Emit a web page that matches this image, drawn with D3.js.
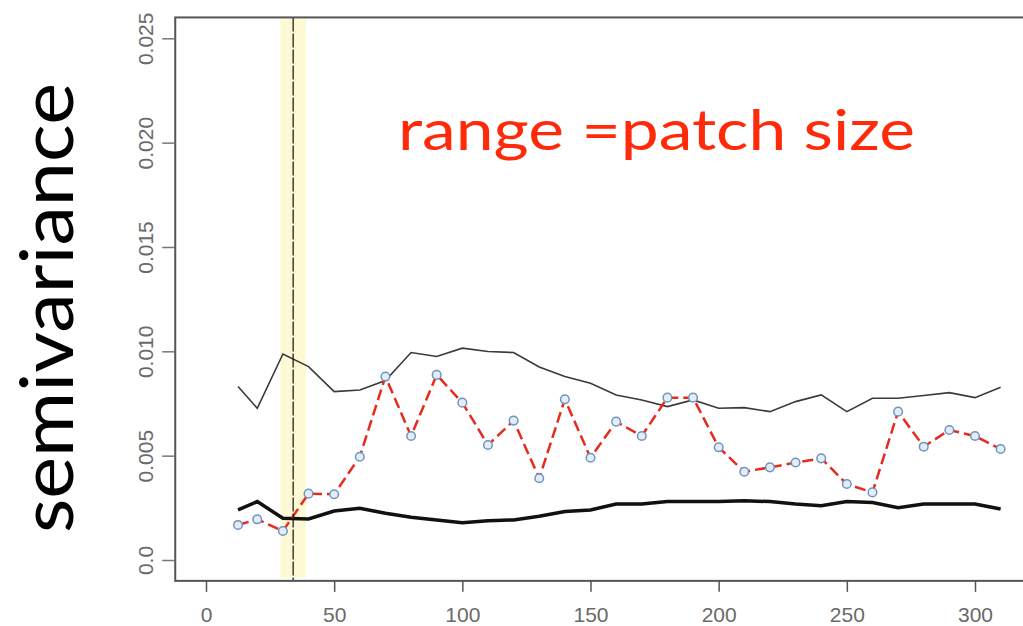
<!DOCTYPE html>
<html>
<head>
<meta charset="utf-8">
<script src="https://cdn.jsdelivr.net/npm/d3@7"></script>
<style>
  html, body { margin: 0; padding: 0; background: #fff; }
  svg { display: block; }
</style>
</head>
<body>
<svg width="1023" height="626"></svg>
<script>
// lag distances (x) and the three curves
const lags = [12.5, 20, 30, 40, 50, 60, 70, 80, 90, 100, 110, 120, 130, 140, 150, 160,
  170, 180, 190, 200, 210, 220, 230, 240, 250, 260, 270, 280, 290, 300, 310];
const semivar = [0.00168, 0.00195, 0.00139, 0.00318, 0.00315, 0.00495, 0.00879, 0.00594,
  0.00887, 0.00754, 0.00551, 0.00668, 0.00392, 0.0077, 0.0049, 0.00663, 0.00594, 0.00778,
  0.00778, 0.0054, 0.00423, 0.00444, 0.00467, 0.00487, 0.00364, 0.00324, 0.00711, 0.00543,
  0.00623, 0.00594, 0.00532];
const upper = [0.00831, 0.00727, 0.00987, 0.00927, 0.00807, 0.00815, 0.0086, 0.00994,
  0.00975, 0.01015, 0.00999, 0.00994, 0.00925, 0.00879, 0.00847, 0.00791, 0.00767, 0.00735,
  0.00767, 0.00727, 0.0073, 0.00711, 0.00759, 0.00791, 0.00711, 0.00775, 0.00775, 0.00788,
  0.00802, 0.00778, 0.00828];
const lower = [0.0024, 0.0028, 0.002, 0.00197, 0.00235, 0.00248, 0.00224, 0.00205,
  0.00192, 0.00179, 0.00188, 0.00192, 0.0021, 0.00232, 0.0024, 0.00268, 0.00268, 0.0028,
  0.0028, 0.0028, 0.00284, 0.0028, 0.00268, 0.0026, 0.0028, 0.00275, 0.00251, 0.00268,
  0.00268, 0.00268, 0.00244];

const xTicks = [0, 50, 100, 150, 200, 250, 300];
const yTicks = [0, 0.005, 0.01, 0.015, 0.02, 0.025];
const rangeBand = [29, 39];
const rangeLine = 34;

const svg = d3.select("svg");

const x = d3.scaleLinear().domain([0, 300]).range([206, 975]);
const y = d3.scaleLinear().domain([0, 0.025]).range([560, 38.3]);

// plot region (R style 4% padding)
const xlim = [-12, 322];
const ylim = [-0.001, 0.026];

// yellow band marking the range
svg.append("rect")
  .attr("x", x(rangeBand[0]))
  .attr("y", y(ylim[1]) + 1)
  .attr("width", x(rangeBand[1]) - x(rangeBand[0]))
  .attr("height", y(-0.0008) - y(ylim[1]))
  .attr("fill", "#fdf9d4");

// curves
const line = (vals) => d3.line()
  .x((d, i) => x(lags[i]))
  .y((d) => y(d))(vals);

svg.append("path")
  .attr("d", line(upper))
  .attr("fill", "none")
  .attr("stroke", "#3a3a3a")
  .attr("stroke-width", 1.6);

svg.append("path")
  .attr("d", line(lower))
  .attr("fill", "none")
  .attr("stroke", "#111")
  .attr("stroke-width", 3.5);

svg.append("path")
  .attr("d", line(semivar))
  .attr("fill", "none")
  .attr("stroke", "#e62a1c")
  .attr("stroke-width", 2.5)
  .attr("stroke-dasharray", "11,5");

svg.selectAll(".pt")
  .data(semivar)
  .enter()
  .append("circle")
  .attr("class", "pt")
  .attr("cx", (d, i) => x(lags[i]))
  .attr("cy", (d) => y(d))
  .attr("r", 4.3)
  .attr("fill", "#e4ecf5")
  .attr("stroke", "#6f94bf")
  .attr("stroke-width", 1.5);

// dashed vertical line at the range
svg.append("line")
  .attr("x1", x(rangeLine)).attr("x2", x(rangeLine))
  .attr("y1", y(ylim[1])).attr("y2", y(ylim[0]))
  .attr("stroke", "#111")
  .attr("stroke-width", 1.2)
  .attr("stroke-dasharray", "14,2");

// frame
svg.append("rect")
  .attr("x", x(xlim[0]))
  .attr("y", y(ylim[1]))
  .attr("width", x(xlim[1]) - x(xlim[0]))
  .attr("height", y(ylim[0]) - y(ylim[1]))
  .attr("fill", "none")
  .attr("stroke", "#555")
  .attr("stroke-width", 2);

// y axis
const yAxis = svg.append("g")
  .attr("transform", `translate(${x(xlim[0])},0)`)
  .call(d3.axisLeft(y).tickValues(yTicks).tickSize(13)
    .tickFormat((d) => d === 0 ? "0.0" : d3.format(".3f")(d)));
yAxis.select(".domain").remove();
yAxis.selectAll(".tick line").attr("stroke", "#777").attr("stroke-width", 1.5);
yAxis.selectAll(".tick text")
  .attr("x", null).attr("dy", null)
  .attr("transform", "translate(-22,0) rotate(-90)")
  .attr("text-anchor", "middle")
  .attr("fill", "#6a6a6a")
  .style("font-family", "Liberation Sans, Arial, sans-serif")
  .style("font-size", "21px");

// x axis
const xAxis = svg.append("g")
  .attr("transform", `translate(0,${y(ylim[0])})`)
  .call(d3.axisBottom(x).tickValues(xTicks).tickSize(11));
xAxis.select(".domain").remove();
xAxis.selectAll(".tick line").attr("stroke", "#555").attr("stroke-width", 1.5);
xAxis.selectAll(".tick text")
  .attr("y", 41).attr("dy", null)
  .attr("fill", "#6a6a6a")
  .style("font-family", "Liberation Sans, Arial, sans-serif")
  .style("font-size", "21px");

// big axis title
svg.append("text")
  .attr("transform", "translate(73,308) rotate(-90)")
  .attr("text-anchor", "middle")
  .attr("textLength", 450)
  .attr("lengthAdjust", "spacingAndGlyphs")
  .style("font-family", "Lato, 'Open Sans', sans-serif")
  .style("font-size", "74px")
  .attr("fill", "#000")
  .text("semivariance");

// annotation
svg.append("text")
  .attr("x", 398)
  .attr("y", 150)
  .attr("textLength", 517)
  .attr("lengthAdjust", "spacingAndGlyphs")
  .style("font-family", "Lato, 'Open Sans', sans-serif")
  .style("font-size", "56px")
  .attr("fill", "#ff2a0a")
  .text("range =patch size");
</script>
</body>
</html>
